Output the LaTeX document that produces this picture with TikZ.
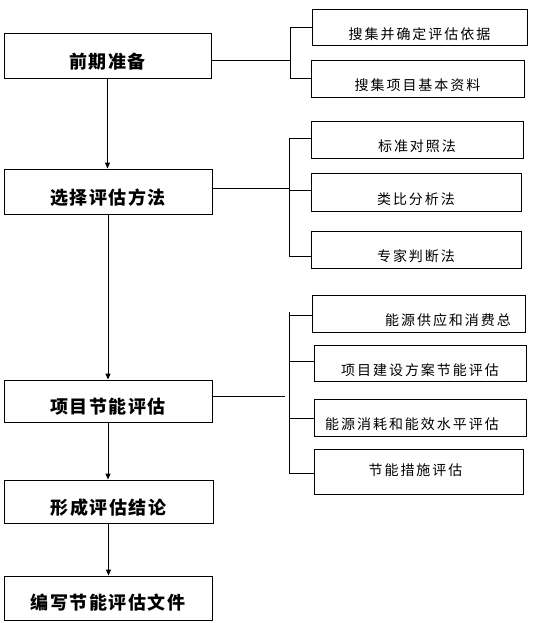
\documentclass[tikz,border=0pt]{standalone}
\usepackage{fontspec}
\newfontfamily\cjkmain{Noto Sans CJK SC}[LetterSpace=8]
\newfontfamily\cjkside{Noto Sans CJK SC}[LetterSpace=14]
\usetikzlibrary{arrows.meta}
\begin{document}
\begin{tikzpicture}[x=1pt,y=-1pt,
  line width=0.9pt,
  mainbox/.style={draw, inner sep=0pt, font=\cjkmain\bfseries\fontsize{18}{18}\selectfont, text height=25.7pt, text depth=0pt},
  sidebox/.style={draw, inner sep=0pt, font=\cjkside\fontsize{14}{14}\selectfont, text height=24.6pt, text depth=0pt},
  arr/.style={-{Triangle[length=6pt,width=5pt]}}
]
\useasboundingbox (0,0) rectangle (545,623);

% main column
\node[mainbox, minimum width=207pt, minimum height=45pt] (A) at (107.5,55.5) {前期准备};
\node[mainbox, minimum width=208pt, minimum height=45pt] (B) at (108,191.5) {选择评估方法};
\node[mainbox, minimum width=208pt, minimum height=42pt] (C) at (108,401) {项目节能评估};
\node[mainbox, minimum width=209pt, minimum height=43pt] (D) at (108.5,501.5) {形成评估结论};
\node[mainbox, minimum width=208pt, minimum height=44pt, text height=22pt] (E) at (108,598) {编写节能评估文件};

% side boxes, group 1
\node[sidebox, minimum width=215pt, minimum height=36pt] (R1) at (419.5,27) {搜集并确定评估依据};
\node[sidebox, minimum width=213pt, minimum height=37pt] (R2) at (417.5,78.5) {搜集项目基本资料};

% group 2
\node[sidebox, minimum width=212pt, minimum height=37pt] (S1) at (417,139.5) {标准对照法};
\node[sidebox, minimum width=210pt, minimum height=38pt] (S2) at (416,192) {类比分析法};
\node[sidebox, minimum width=210pt, minimum height=37pt] (S3) at (416,249.5) {专家判断法};

% group 3
\node[sidebox, minimum width=213pt, minimum height=37pt] (T1) at (418.5,313.5) {\hspace*{59pt}能源供应和消费总};
\node[sidebox, minimum width=212pt, minimum height=36pt] (T2) at (420,363) {项目建设方案节能评估};
\node[sidebox, minimum width=212pt, minimum height=37pt] (T3) at (420,417.5) {能源消耗和能效水平评估\hspace*{16pt}};
\node[sidebox, minimum width=209pt, minimum height=45pt, text height=7.6pt] (T4) at (418.5,471.5) {节能措施评估\hspace*{6pt}};

% arrows
\draw[arr] (A.south) -- (A.south |- B.north);
\draw[arr] (B.south) -- (B.south |- C.north);
\draw[arr] (C.south) -- (C.south |- D.north);
\draw[arr] (D.south) -- (D.south |- E.north);

% bracket 1
\coordinate (j1) at (290,60);
\draw (A.east |- j1) -- (j1);
\draw (R1.west) -- (R1.west -| j1) -- (R2.west -| j1) -- (R2.west);

% bracket 2
\coordinate (j2) at (289,188);
\coordinate (s1b) at (289,138);
\coordinate (s2b) at (289,190);
\coordinate (s3b) at (289,256);
\draw (B.east |- j2) -- (j2);
\draw (S1.west |- s1b) -- (s1b) -- (s3b) -- (S3.west |- s3b);
\draw (s2b) -- (S2.west |- s2b);

% bracket 3
\coordinate (j3) at (285,396);
\coordinate (t0) at (289,312);
\coordinate (t1) at (289,315);
\coordinate (t2) at (289,361);
\coordinate (t3) at (289,418);
\coordinate (t4) at (289,473);
\draw (C.east |- j3) -- (j3);
\draw (t0) -- (t4);
\draw (t1) -- (T1.west |- t1);
\draw (t2) -- (T2.west |- t2);
\draw (t3) -- (T3.west |- t3);
\draw (t4) -- (T4.west |- t4);
\end{tikzpicture}
\end{document}
